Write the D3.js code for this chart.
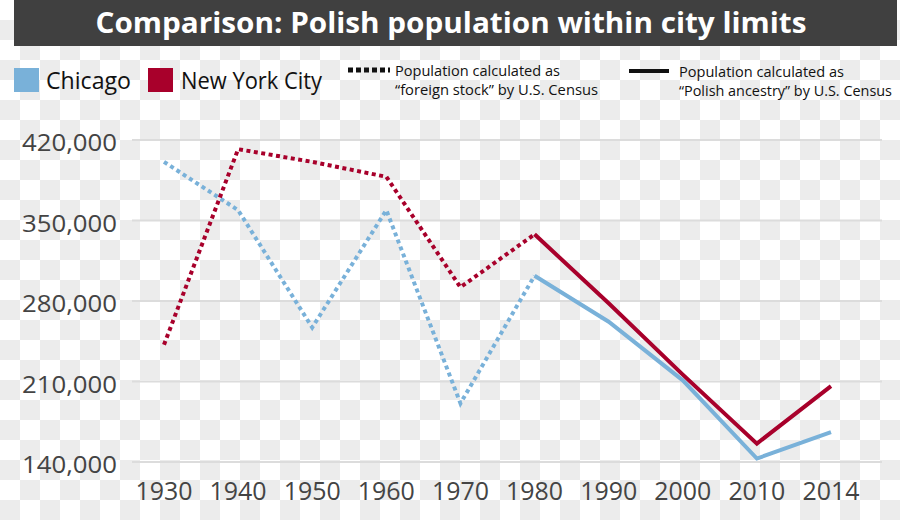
<!DOCTYPE html>
<html>
<head>
<meta charset="utf-8">
<script src="https://cdn.jsdelivr.net/npm/d3@7"></script>
<style>
  html, body { margin: 0; padding: 0; background: #fff; }
  svg { display: block; font-family: "Open Sans", "Noto Sans", sans-serif; }
</style>
</head>
<body>
<svg id="chart" width="900" height="520"></svg>
<script>
// data
const years = ["1930", "1940", "1950", "1960", "1970", "1980", "1990", "2000", "2010", "2014"];
const yTicks = [140000, 210000, 280000, 350000, 420000];
// "foreign stock" (dotted) 1930-1980, "Polish ancestry" (solid) 1980-2014
const chicagoStock    = [401000, 359000, 257000, 359000, 191000, 302000, null, null, null, null];
const chicagoAncestry = [null, null, null, null, null, 302000, 262000, 211000, 143000, 166000];
const nycStock        = [242000, 412000, 401000, 388000, 292000, 338000, null, null, null, null];
const nycAncestry     = [null, null, null, null, null, 338000, 278000, 216000, 156000, 206000];

const blue = "#79b1d9";
const red = "#a8002b";

const svg = d3.select("#chart");

// checkerboard background
const defs = svg.append("defs");
const pat = defs.append("pattern")
  .attr("id", "checker")
  .attr("width", 40).attr("height", 40)
  .attr("patternUnits", "userSpaceOnUse");
pat.append("rect").attr("width", 40).attr("height", 40).attr("fill", "#ffffff");
pat.append("rect").attr("x", 20).attr("y", 0).attr("width", 20).attr("height", 20).attr("fill", "#ececec");
pat.append("rect").attr("x", 0).attr("y", 20).attr("width", 20).attr("height", 20).attr("fill", "#ececec");
svg.append("rect").attr("width", 900).attr("height", 520).attr("fill", "url(#checker)");

// title bar
svg.append("rect")
  .attr("x", 14).attr("y", 0)
  .attr("width", 883).attr("height", 46)
  .attr("fill", "#404040");
svg.append("text")
  .attr("x", 451).attr("y", 33)
  .attr("text-anchor", "middle")
  .attr("fill", "#fff")
  .style("font-size", "28px")
  .style("font-weight", "bold")
  .attr("textLength", 711)
  .attr("lengthAdjust", "spacingAndGlyphs")
  .text("Comparison: Polish population within city limits");

// legend
const legend = svg.append("g");
legend.append("rect").attr("x", 14).attr("y", 68).attr("width", 25).attr("height", 24).attr("fill", blue);
legend.append("text").attr("x", 46).attr("y", 89)
  .attr("fill", "#111").style("font-size", "24px")
  .attr("textLength", 85).attr("lengthAdjust", "spacingAndGlyphs")
  .text("Chicago");
legend.append("rect").attr("x", 148).attr("y", 68).attr("width", 25).attr("height", 24).attr("fill", red);
legend.append("text").attr("x", 181).attr("y", 89)
  .attr("fill", "#111").style("font-size", "24px")
  .attr("textLength", 141).attr("lengthAdjust", "spacingAndGlyphs")
  .text("New York City");

legend.append("line")
  .attr("x1", 348).attr("x2", 390).attr("y1", 70).attr("y2", 70)
  .attr("stroke", "#111").attr("stroke-width", 5)
  .attr("stroke-dasharray", "5,3");
legend.append("line")
  .attr("x1", 629).attr("x2", 669).attr("y1", 71).attr("y2", 71)
  .attr("stroke", "#111").attr("stroke-width", 4);

const legendText = [
  { x: 395, y: 76, w: 165, t: "Population calculated as" },
  { x: 395, y: 95, w: 203, t: "\u201Cforeign stock\u201D  by U.S. Census" },
  { x: 679, y: 77, w: 165, t: "Population calculated as" },
  { x: 679, y: 96, w: 213, t: "\u201CPolish ancestry\u201D by U.S. Census" }
];
legend.selectAll("text.note")
  .data(legendText)
  .enter()
  .append("text")
  .attr("class", "note")
  .attr("x", (d) => d.x).attr("y", (d) => d.y)
  .attr("fill", "#111").style("font-size", "15px")
  .attr("textLength", (d) => d.w).attr("lengthAdjust", "spacingAndGlyphs")
  .text((d) => d.t);

// scales
const x = d3.scalePoint().domain(years).range([164, 831]);
const y = d3.scaleLinear().domain([140000, 420000]).range([462, 140]);

// grid
svg.append("g")
  .selectAll("line")
  .data(yTicks)
  .enter()
  .append("line")
  .attr("x1", 132).attr("x2", 882)
  .attr("y1", (d) => y(d)).attr("y2", (d) => y(d))
  .attr("stroke", "#dcdcdc").attr("stroke-width", 2);

// y axis labels
const fmt = d3.format(",");
svg.append("g")
  .selectAll("text")
  .data(yTicks)
  .enter()
  .append("text")
  .attr("x", 117).attr("y", (d) => y(d) + 11)
  .attr("text-anchor", "end")
  .attr("fill", "#444")
  .style("font-size", "24px")
  .attr("textLength", 95).attr("lengthAdjust", "spacingAndGlyphs")
  .text((d) => fmt(d));

// x axis labels
svg.append("g")
  .selectAll("text")
  .data(years)
  .enter()
  .append("text")
  .attr("x", (d) => x(d)).attr("y", 500)
  .attr("text-anchor", "middle")
  .attr("fill", "#444")
  .style("font-size", "25px")
  .attr("textLength", 57).attr("lengthAdjust", "spacingAndGlyphs")
  .text((d) => d);

// lines
const line = d3.line()
  .defined((d) => d != null)
  .x((d, i) => x(years[i]))
  .y((d) => y(d));

const series = [
  { values: chicagoStock, color: blue, dash: "4,3.5" },
  { values: nycStock, color: red, dash: "4,3.5" },
  { values: chicagoAncestry, color: blue, dash: null },
  { values: nycAncestry, color: red, dash: null }
];

svg.append("g")
  .selectAll("path")
  .data(series)
  .enter()
  .append("path")
  .attr("d", (d) => line(d.values))
  .attr("fill", "none")
  .attr("stroke", (d) => d.color)
  .attr("stroke-width", 4)
  .attr("stroke-dasharray", (d) => d.dash);
</script>
</body>
</html>
